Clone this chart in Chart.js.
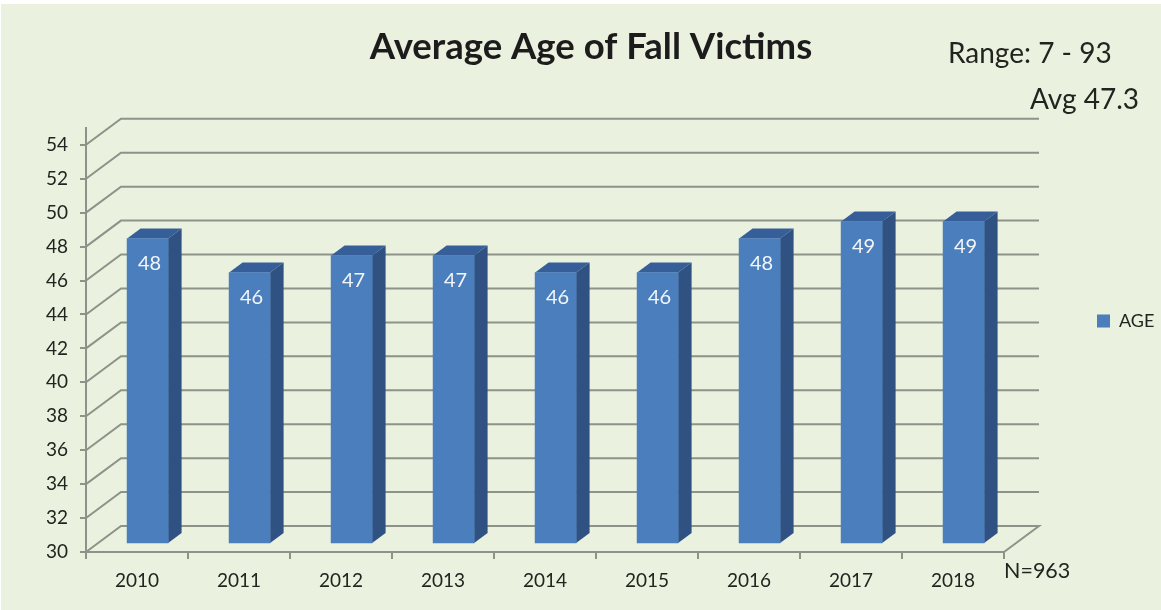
<!DOCTYPE html>
<html><head><meta charset="utf-8">
<style>html,body{margin:0;padding:0;background:#fff}canvas{display:block}</style>
<script src="https://cdn.jsdelivr.net/npm/chart.js@4"></script>
</head><body><canvas id="c" width="1161" height="610"></canvas>
<script>
const categories = ['2010','2011','2012','2013','2014','2015','2016','2017','2018'];
const ageValues = [48,46,47,47,46,46,48,49,49];
const seriesName = 'AGE';
const titleText = 'Average Age of Fall Victims';
const notes = [
  {text:'Range: 7 - 93', x:948, y:54, size:28},
  {text:'Avg 47.3', x:1030, y:100, size:28},
  {text:'N=963', x:1004, y:571, size:21.5}
];
const FONT = 'Lato, "Open Sans", sans-serif';
const INK = '#222420', LINE = '#8d9389', BG = '#eaf1de';
const FRONT = '#4a7ebd', TOP = '#365f99', SIDE = '#2f5283';
const WALL = {dx:35, dy:-26};
const BAR = {dx:10.6, dy:-8, depthX:13.5, depthY:-10};

const scene = {
  id:'scene',
  afterLayout(chart){
    chart.legend.top += 16;
    chart.legend.bottom += 16;
  },
  beforeDraw(chart){
    const {ctx, scales:{y}, chartArea:a} = chart;
    ctx.save();
    ctx.fillStyle = BG; ctx.fillRect(1,4,chart.width,chart.height);
    ctx.strokeStyle = LINE; ctx.lineWidth = 2;
    y.ticks.forEach(t=>{
      const py = y.getPixelForValue(t.value);
      ctx.beginPath();
      ctx.moveTo(a.left,py);
      ctx.lineTo(a.left+WALL.dx,py+WALL.dy);
      ctx.lineTo(a.right+WALL.dx,py+WALL.dy);
      if(t.value===y.min) ctx.lineTo(a.right,py);
      ctx.stroke();
    });
    ctx.restore();
  },
  beforeDatasetsDraw(chart){
    const ctx = chart.ctx;
    ctx.save();
    ctx.translate(BAR.dx,BAR.dy);
    chart.getDatasetMeta(0).data.forEach(b=>{
      const l=b.x-b.width/2, r=b.x+b.width/2, t=b.y, bo=b.base;
      ctx.fillStyle=TOP; ctx.beginPath();
      ctx.moveTo(l,t);ctx.lineTo(l+BAR.depthX,t+BAR.depthY);ctx.lineTo(r+BAR.depthX,t+BAR.depthY);ctx.lineTo(r,t);ctx.closePath();ctx.fill();
      ctx.fillStyle=SIDE; ctx.beginPath();
      ctx.moveTo(r,t);ctx.lineTo(r+BAR.depthX,t+BAR.depthY);ctx.lineTo(r+BAR.depthX,bo+BAR.depthY);ctx.lineTo(r,bo);ctx.closePath();ctx.fill();
    });
  },
  afterDatasetsDraw(chart){
    const ctx = chart.ctx;
    ctx.fillStyle='#f2f6fb'; ctx.font='20px '+FONT; ctx.textAlign='center'; ctx.textBaseline='middle';
    chart.getDatasetMeta(0).data.forEach((b,i)=>{
      ctx.fillText(String(ageValues[i]), b.x+2, b.y+25);
    });
    ctx.restore();
  },
  afterDraw(chart){
    const ctx = chart.ctx;
    ctx.save();
    ctx.fillStyle=INK; ctx.textAlign='left'; ctx.textBaseline='middle';
    notes.forEach(n=>{ctx.font=n.size+'px '+FONT; ctx.fillText(n.text,n.x,n.y);});
    ctx.restore();
  }
};

new Chart(document.getElementById('c'),{
  type:'bar',
  data:{labels:categories,datasets:[{label:seriesName,data:ageValues,base:30,backgroundColor:FRONT,borderWidth:0,barThickness:41,clip:false}]},
  plugins:[scene],
  options:{
    responsive:false,animation:false,
    layout:{padding:{left:22,right:1,top:0,bottom:0}},
    plugins:{
      tooltip:{enabled:false},
      title:{display:true,text:titleText,color:'#1c1c1c',font:{family:FONT,size:36.5,weight:'bold'},padding:{top:25,bottom:59}},
      legend:{position:'right',maxWidth:156,align:'center',
        labels:{boxWidth:13,boxHeight:13,padding:93,color:INK,font:{family:FONT,size:18},
          generateLabels:c=>[{text:seriesName,fillStyle:FRONT,strokeStyle:FRONT,lineWidth:0,fontColor:INK,datasetIndex:0}]}}
    },
    scales:{
      x:{offset:true,
        afterFit(s){s.height=58;},
        grid:{display:true,drawOnChartArea:false,drawTicks:true,tickLength:7,color:LINE,offset:true,lineWidth:2},
        border:{display:true,color:LINE,width:2},
        ticks:{color:INK,font:{family:FONT,size:19},padding:10,maxRotation:0,autoSkip:false}},
      y:{min:30,max:55,
        afterFit(s){s.width=64;},
        grid:{display:true,drawOnChartArea:false,drawTicks:true,tickLength:6,color:LINE,lineWidth:2},
        border:{display:true,color:LINE,width:2},
        ticks:{stepSize:2,includeBounds:false,color:INK,font:{family:FONT,size:19},padding:12}}
    }
  }
});
</script></body></html>
